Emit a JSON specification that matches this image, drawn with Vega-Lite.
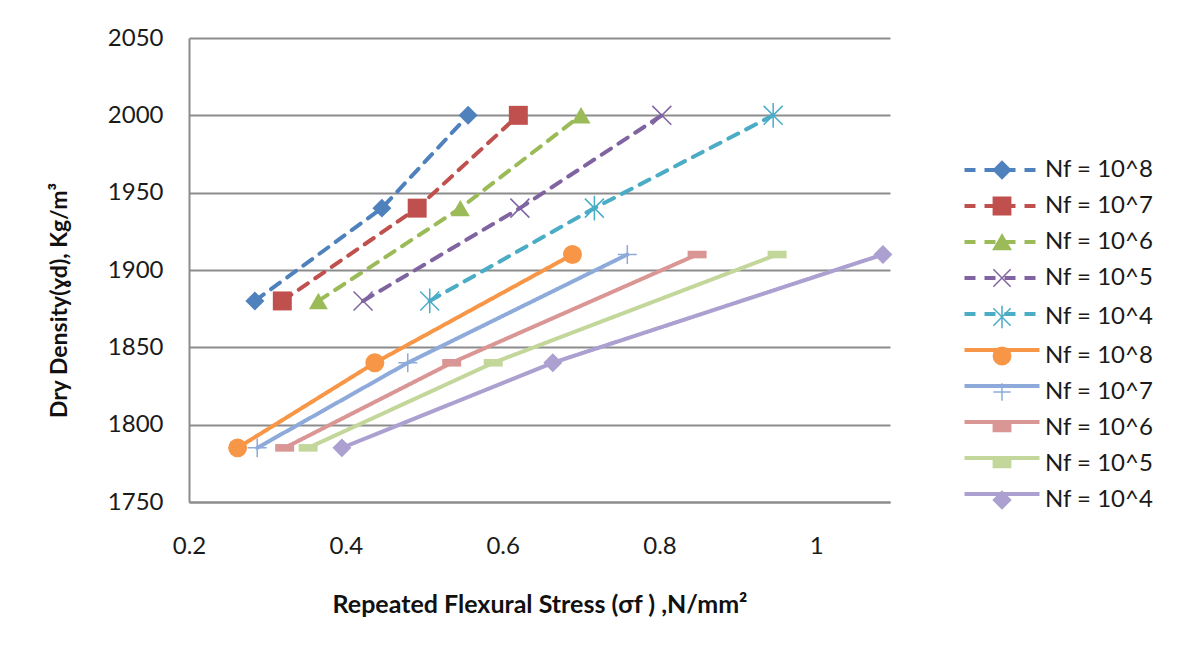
{
  "$schema": "https://vega.github.io/schema/vega-lite/v6.json",
  "autosize": "none",
  "width": 701,
  "height": 464,
  "padding": {"left": 189, "top": 38, "right": 289, "bottom": 160},
  "background": "white",
  "config": {"view": {"stroke": null}, "font": "Lato"},
  "data": {
    "values": [
      {"series": "a", "x": 0.284, "y": 1880}, {"series": "a", "x": 0.446, "y": 1940}, {"series": "a", "x": 0.556, "y": 2000},
      {"series": "b", "x": 0.319, "y": 1880}, {"series": "b", "x": 0.491, "y": 1940}, {"series": "b", "x": 0.620, "y": 2000},
      {"series": "c", "x": 0.365, "y": 1880}, {"series": "c", "x": 0.546, "y": 1940}, {"series": "c", "x": 0.700, "y": 2000},
      {"series": "d", "x": 0.422, "y": 1880}, {"series": "d", "x": 0.622, "y": 1940}, {"series": "d", "x": 0.803, "y": 2000},
      {"series": "e", "x": 0.507, "y": 1880}, {"series": "e", "x": 0.717, "y": 1940}, {"series": "e", "x": 0.945, "y": 2000},
      {"series": "f", "x": 0.262, "y": 1785}, {"series": "f", "x": 0.437, "y": 1840}, {"series": "f", "x": 0.689, "y": 1910},
      {"series": "g", "x": 0.287, "y": 1785}, {"series": "g", "x": 0.479, "y": 1840}, {"series": "g", "x": 0.759, "y": 1910},
      {"series": "h", "x": 0.322, "y": 1785}, {"series": "h", "x": 0.535, "y": 1840}, {"series": "h", "x": 0.848, "y": 1910},
      {"series": "i", "x": 0.352, "y": 1785}, {"series": "i", "x": 0.588, "y": 1840}, {"series": "i", "x": 0.950, "y": 1910},
      {"series": "j", "x": 0.395, "y": 1785}, {"series": "j", "x": 0.664, "y": 1840}, {"series": "j", "x": 1.085, "y": 1910}
    ]
  },
  "encoding": {
    "x": {
      "field": "x", "type": "quantitative",
      "scale": {"domain": [0.2, 1.094], "nice": false, "zero": false},
      "axis": {
        "title": "Repeated Flexural Stress (σf ) ,N/mm²",
        "values": [0.2, 0.4, 0.6, 0.8, 1.0], "format": "~g",
        "grid": false, "ticks": false,
        "domainColor": "#8c8c8c", "domainWidth": 2,
        "labelFontSize": 24, "labelColor": "#1a1a1a", "labelPadding": 32,
        "titleFontSize": 25, "titleFontWeight": "bold", "titleColor": "#111111", "titlePadding": 34,
        "labelFlush": false
      }
    },
    "y": {
      "field": "y", "type": "quantitative",
      "scale": {"domain": [1750, 2050], "nice": false, "zero": false},
      "axis": {
        "title": "Dry Density(ɣd), Kg/m³",
        "values": [1750, 1800, 1850, 1900, 1950, 2000, 2050], "format": "d",
        "grid": true, "gridColor": "#8c8c8c", "gridWidth": 2,
        "ticks": false,
        "domainColor": "#8c8c8c", "domainWidth": 2,
        "labelFontSize": 24, "labelColor": "#1a1a1a", "labelPadding": 26,
        "titleFontSize": 23, "titleFontWeight": "bold", "titleColor": "#111111", "titlePadding": 36,
        "titleY": 262
      }
    }
  },
  "layer": [
    {
      "mark": {"type": "line", "strokeWidth": 4, "strokeCap": "round"},
      "encoding": {
        "color": {
          "field": "series", "type": "nominal",
          "scale": {"range": ["#4F81BD", "#C0504D", "#9BBB59", "#8064A2", "#4BACC6", "#F79646", "#8EAADB", "#DA9694", "#C4D79B", "#ABA0CF"]},
          "legend": {
            "orient": "none", "legendX": 801, "legendY": 120, "title": null, "padding": 0,
            "symbolType": "M-5,0L5,0", "symbolSize": 225, "symbolStrokeWidth": 4,
            "labelFontSize": 24, "labelOpacity": 0, "labelOffset": 10, "rowPadding": 12
          }
        },
        "strokeDash": {
          "field": "series", "type": "nominal",
          "scale": {"range": [[11, 9], [11, 9], [11, 9], [11, 9], [11, 9], [1, 0], [1, 0], [1, 0], [1, 0], [1, 0]]},
          "legend": {
            "orient": "none", "legendX": 801, "legendY": 120, "title": null, "padding": 0,
            "symbolType": "M-5,0L5,0", "symbolSize": 225, "symbolStrokeWidth": 4,
            "labelFontSize": 24, "labelOpacity": 0, "labelOffset": 10, "rowPadding": 12
          }
        }
      }
    },
    {
      "transform": [{"filter": {"field": "series", "oneOf": ["a", "b", "c", "f", "h", "i", "j"]}}],
      "mark": {"type": "point", "filled": true, "opacity": 1, "size": 360},
      "encoding": {
        "fill": {
          "field": "series", "type": "nominal",
          "scale": {"domain": ["a", "b", "c", "d", "e", "f", "g", "h", "i", "j"], "range": ["#4F81BD", "#C0504D", "#9BBB59", "#8064A2", "#4BACC6", "#F79646", "#8EAADB", "#DA9694", "#C4D79B", "#ABA0CF"]},
          "legend": {
            "orient": "none", "legendX": 801, "legendY": 120, "title": null, "padding": 0,
            "symbolSize": 300, "symbolStrokeWidth": 1.5,
            "labelFontSize": 24, "labelColor": "#1a1a1a", "labelOffset": 31, "rowPadding": 12,
            "labelExpr": "['Nf = 10^8','Nf = 10^7','Nf = 10^6','Nf = 10^5','Nf = 10^4'][indexof('abcdefghij', datum.label) % 5]"
          }
        },
        "shape": {
          "field": "series", "type": "nominal",
          "scale": {"domain": ["a", "b", "c", "d", "e", "f", "g", "h", "i", "j"], "range": ["diamond", "square", "triangle-up", "M-1,-1L1,1M-1,1L1,-1", "M-1,-1L1,1M-1,1L1,-1M0,-1.3L0,1.3", "circle", "M-1,0L1,0M0,-1L0,1", "M-1,-0.4L1,-0.4L1,0.4L-1,0.4Z", "M-1,-0.4L1,-0.4L1,0.4L-1,0.4Z", "diamond"]},
          "legend": {
            "orient": "none", "legendX": 801, "legendY": 120, "title": null, "padding": 0,
            "symbolSize": 300, "symbolStrokeWidth": 1.5,
            "labelFontSize": 24, "labelColor": "#1a1a1a", "labelOffset": 31, "rowPadding": 12,
            "labelExpr": "['Nf = 10^8','Nf = 10^7','Nf = 10^6','Nf = 10^5','Nf = 10^4'][indexof('abcdefghij', datum.label) % 5]"
          }
        }
      }
    },
    {
      "transform": [{"filter": {"field": "series", "oneOf": ["d", "e", "g"]}}],
      "mark": {"type": "point", "filled": false, "opacity": 1, "size": 360, "strokeWidth": 1.5},
      "encoding": {
        "stroke": {
          "field": "series", "type": "nominal",
          "scale": {"domain": ["a", "b", "c", "d", "e", "f", "g", "h", "i", "j"], "range": ["#4F81BD", "#C0504D", "#9BBB59", "#8064A2", "#4BACC6", "#F79646", "#8EAADB", "#DA9694", "#C4D79B", "#ABA0CF"]},
          "legend": {
            "orient": "none", "legendX": 801, "legendY": 120, "title": null, "padding": 0,
            "symbolSize": 300, "symbolStrokeWidth": 1.5,
            "labelFontSize": 24, "labelColor": "#1a1a1a", "labelOffset": 31, "rowPadding": 12,
            "labelExpr": "['Nf = 10^8','Nf = 10^7','Nf = 10^6','Nf = 10^5','Nf = 10^4'][indexof('abcdefghij', datum.label) % 5]"
          }
        },
        "shape": {
          "field": "series", "type": "nominal",
          "scale": {"domain": ["a", "b", "c", "d", "e", "f", "g", "h", "i", "j"], "range": ["diamond", "square", "triangle-up", "M-1,-1L1,1M-1,1L1,-1", "M-1,-1L1,1M-1,1L1,-1M0,-1.3L0,1.3", "circle", "M-1,0L1,0M0,-1L0,1", "M-1,-0.4L1,-0.4L1,0.4L-1,0.4Z", "M-1,-0.4L1,-0.4L1,0.4L-1,0.4Z", "diamond"]}
        }
      }
    }
  ]
}
